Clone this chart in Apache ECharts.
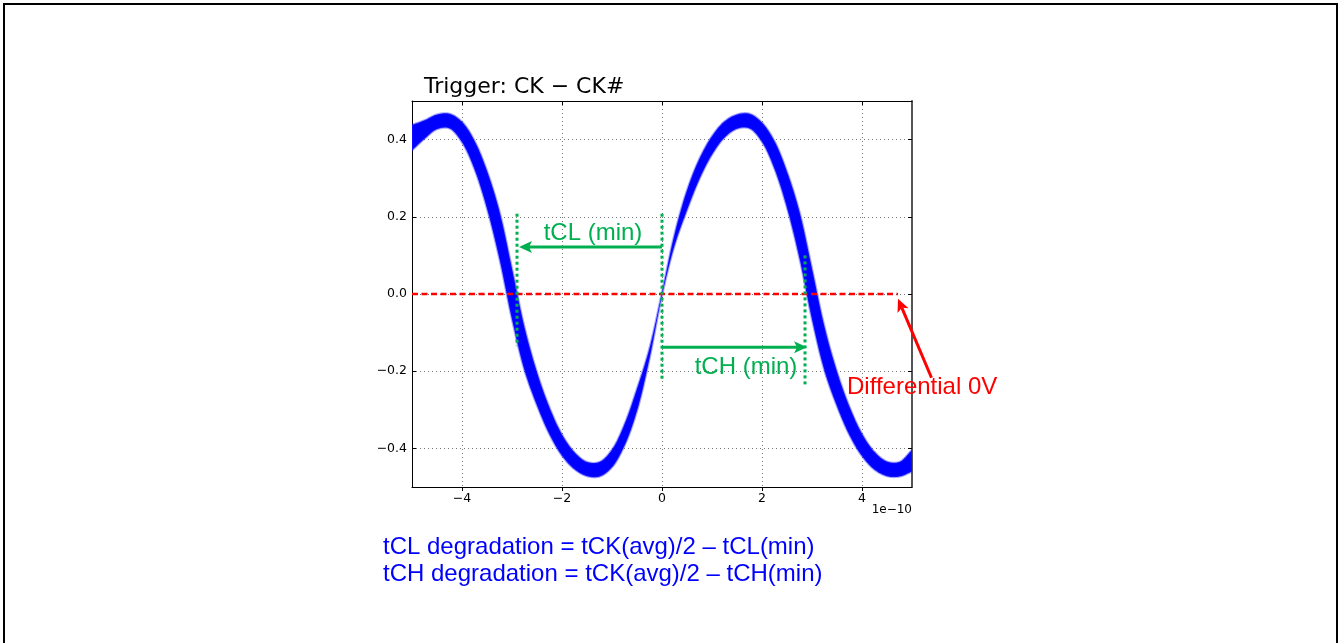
<!DOCTYPE html>
<html><head><meta charset="utf-8">
<script src="https://cdn.jsdelivr.net/npm/echarts@6/dist/echarts.min.js"></script>
<style>html,body{margin:0;padding:0;background:#fff}#c{width:1341px;height:643px}</style>
</head><body><div id="c"></div>
<script>
// ---- data (x in units of 1e-10 s, y in V) ----
const xTicks = [-4, -2, 0, 2, 4];
const yTicks = [-0.4, -0.2, 0.0, 0.2, 0.4];

// sample positions along x, with the top and bottom edge of the overlaid-trace band
const bandX = [
  -5.0, -4.75, -4.5, -4.25, -4.0, -3.75, -3.5, -3.25, -3.0, -2.75, -2.5, -2.25, -2.0, -1.75,
  -1.5, -1.25, -1.0, -0.75, -0.5, -0.25, 0.0, 0.25, 0.5, 0.75, 1.0, 1.25, 1.5, 1.75,
  2.0, 2.25, 2.5, 2.75, 3.0, 3.25, 3.5, 3.75, 4.0, 4.25, 4.5, 4.75, 5.0
];
const bandUpper = [
  0.438, 0.450, 0.465, 0.467, 0.446, 0.397, 0.319, 0.214, 0.066, -0.086, -0.203, -0.294, -0.364, -0.410,
  -0.435, -0.435, -0.403, -0.337, -0.245, -0.140, 0.004, 0.155, 0.269, 0.351, 0.409, 0.447, 0.465, 0.467,
  0.444, 0.396, 0.317, 0.213, 0.066, -0.085, -0.201, -0.292, -0.362, -0.409, -0.434, -0.435, -0.404
];
const bandLower = [
  0.372, 0.402, 0.427, 0.429, 0.393, 0.323, 0.221, 0.090, -0.066, -0.198, -0.289, -0.364, -0.419, -0.454,
  -0.472, -0.473, -0.449, -0.393, -0.303, -0.168, -0.004, 0.125, 0.217, 0.298, 0.361, 0.405, 0.428, 0.429,
  0.394, 0.324, 0.223, 0.092, -0.066, -0.199, -0.291, -0.366, -0.420, -0.455, -0.472, -0.473, -0.460
];

// annotations
const zeroLine = [[-5.0, 0.0], [4.72, 0.0]];
const greenDotted = [[-2.9, 0.208, -0.135], [0.0, 0.208, -0.226], [2.86, 0.10, -0.24]]; // x, yTop, yBottom
const greenArrows = [[0.0, 0.122, -2.86, 0.122], [0.0, -0.138, 2.9, -0.138]];           // from -> to
const redArrows = [[5.39, -0.217, 4.72, -0.012]];

const GREEN = '#00b050', RED = '#ff0000', BLUE = '#0000ff';

const chart = echarts.init(document.getElementById('c'), null, {renderer: 'canvas'});
const minus = s => String(s).replace('-', '\u2212');

// centripetal Catmull-Rom through already-projected pixel points (render-time smoothing only)
function spline(P, n) {
  const out = [];
  const d = (a, b) => Math.pow(Math.hypot(b[0] - a[0], b[1] - a[1]), 0.5) || 1e-6;
  const mix = (a, b, wa, wb) => [a[0] * wa + b[0] * wb, a[1] * wa + b[1] * wb];
  for (let i = 0; i < P.length - 1; i++) {
    const p1 = P[i], p2 = P[i + 1];
    const p0 = i > 0 ? P[i - 1] : [2 * p1[0] - p2[0], 2 * p1[1] - p2[1]];
    const p3 = i < P.length - 2 ? P[i + 2] : [2 * p2[0] - p1[0], 2 * p2[1] - p1[1]];
    const t0 = 0, t1 = t0 + d(p0, p1), t2 = t1 + d(p1, p2), t3 = t2 + d(p2, p3);
    for (let k = 0; k < n; k++) {
      const t = t1 + (t2 - t1) * k / n;
      const A1 = mix(p0, p1, (t1 - t) / (t1 - t0), (t - t0) / (t1 - t0));
      const A2 = mix(p1, p2, (t2 - t) / (t2 - t1), (t - t1) / (t2 - t1));
      const A3 = mix(p2, p3, (t3 - t) / (t3 - t2), (t - t2) / (t3 - t2));
      const B1 = mix(A1, A2, (t2 - t) / (t2 - t0), (t - t0) / (t2 - t0));
      const B2 = mix(A2, A3, (t3 - t) / (t3 - t1), (t - t1) / (t3 - t1));
      out.push(mix(B1, B2, (t2 - t) / (t2 - t1), (t - t1) / (t2 - t1)));
    }
  }
  out.push(P[P.length - 1]);
  return out;
}

function arrowItem(color) {
  return function (params, api) {
    const p1 = api.coord([api.value(0), api.value(1)]);
    const p2 = api.coord([api.value(2), api.value(3)]);
    const ang = Math.atan2(p2[1] - p1[1], p2[0] - p1[0]);
    const ux = Math.cos(ang), uy = Math.sin(ang);
    const L = 13, W = 6, N = 3;
    const bx = p2[0] - ux * L, by = p2[1] - uy * L;
    const nx = p2[0] - ux * (L - N), ny = p2[1] - uy * (L - N);
    return {
      type: 'group',
      children: [
        {type: 'line', shape: {x1: p1[0], y1: p1[1], x2: nx, y2: ny},
         style: {stroke: color, lineWidth: 3}},
        {type: 'polygon', shape: {points: [p2, [bx - uy * W, by + ux * W], [nx, ny], [bx + uy * W, by - ux * W]]},
         style: {fill: color}}
      ]
    };
  };
}

const axisCommon = {
  type: 'value',
  axisLine: {show: true, onZero: false, lineStyle: {color: '#000', width: 1}},
  axisTick: {show: true, inside: true, length: 4, lineStyle: {color: '#000'}},
  splitLine: {show: false},
  axisLabel: {show: false}
};

chart.setOption({
  animation: false,
  backgroundColor: '#fff',
  grid: {left: 412, top: 101, width: 500, height: 386, containLabel: false},
  xAxis: [
    Object.assign({}, axisCommon, {
      position: 'bottom', min: -5, max: 5,
      axisTick: {show: true, inside: false, length: 4, customValues: xTicks, lineStyle: {color: '#000'}},
      axisLabel: {show: true, customValues: xTicks, formatter: v => minus(v), color: '#000',
                  fontFamily: 'DejaVu Sans', fontSize: 12.5, margin: 5},
      splitLine: {show: true, lineStyle: {color: '#777', width: 1, type: [1, 3]}}
    }),
    Object.assign({}, axisCommon, {
      position: 'top', min: -5, max: 5,
      axisTick: {show: true, inside: true, length: 4, customValues: xTicks, lineStyle: {color: '#000'}}
    })
  ],
  yAxis: [
    Object.assign({}, axisCommon, {
      position: 'left', min: -0.5, max: 0.5,
      axisTick: {show: true, inside: true, length: 4, customValues: yTicks, lineStyle: {color: '#000'}},
      axisLabel: {show: true, customValues: yTicks, formatter: v => minus(Number(v).toFixed(1)), color: '#000',
                  fontFamily: 'DejaVu Sans', fontSize: 12.5, margin: 5},
      splitLine: {show: true, lineStyle: {color: '#777', width: 1, type: [1, 3]}}
    }),
    Object.assign({}, axisCommon, {
      position: 'right', min: -0.5, max: 0.5,
      axisLine: {show: true, onZero: false, lineStyle: {color: '#555', width: 2}},
      axisTick: {show: true, inside: true, length: 4, customValues: yTicks, lineStyle: {color: '#000'}}
    })
  ],
  series: [
    {
      name: 'traces', type: 'custom', coordinateSystem: 'cartesian2d', clip: true, silent: true, z: 2,
      data: [[0, 0]],
      renderItem: function (params, api) {
        const up = spline(bandX.map((x, i) => api.coord([x, bandUpper[i]])), 10);
        const lo = spline(bandX.map((x, i) => api.coord([x, bandLower[i]])), 10);
        const pts = up.concat(lo.reverse());
        return {type: 'polygon', shape: {points: pts},
                style: {fill: BLUE, stroke: 'rgba(30,30,255,0.4)', lineWidth: 2.2}};
      }
    },
    {
      name: 'zero', type: 'line', data: zeroLine, showSymbol: false, silent: true, z: 5,
      lineStyle: {color: RED, width: 2.5, type: [6, 3.5]}
    },
    {
      name: 'dotted', type: 'custom', coordinateSystem: 'cartesian2d', clip: false, silent: true, z: 6,
      data: greenDotted,
      renderItem: function (params, api) {
        const a = api.coord([api.value(0), api.value(1)]);
        const b = api.coord([api.value(0), api.value(2)]);
        return {type: 'line', shape: {x1: a[0], y1: a[1], x2: b[0], y2: b[1]},
                style: {stroke: GREEN, lineWidth: 3, lineDash: [3, 3]}};
      }
    },
    {
      name: 'garrows', type: 'custom', coordinateSystem: 'cartesian2d', clip: false, silent: true, z: 7,
      encode: {x: [0, 2], y: [1, 3]},
      data: greenArrows, renderItem: arrowItem(GREEN)
    },
    {
      name: 'rarrows', type: 'custom', coordinateSystem: 'cartesian2d', clip: false, silent: true, z: 7,
      encode: {x: [0, 2], y: [1, 3]},
      data: redArrows, renderItem: arrowItem(RED)
    }
  ],
  graphic: [
    {type: 'rect', shape: {x: 4, y: 4, width: 1333, height: 680}, style: {fill: 'none', stroke: '#000', lineWidth: 2}, z: 100},
    {type: 'text', x: 424, y: 87, style: {text: 'Trigger: CK \u2212 CK#', font: '22px "DejaVu Sans"', fill: '#000', textVerticalAlign: 'middle'}},
    {type: 'text', x: 912, y: 510, style: {text: '1e\u221210', font: '12px "DejaVu Sans"', fill: '#000', textAlign: 'right', textVerticalAlign: 'middle'}},
    {type: 'text', x: 593, y: 233, style: {text: 'tCL (min)', font: '24px "Liberation Sans"', fill: GREEN, textAlign: 'center', textVerticalAlign: 'middle'}, z: 10},
    {type: 'text', x: 746, y: 367, style: {text: 'tCH (min)', font: '24px "Liberation Sans"', fill: GREEN, textAlign: 'center', textVerticalAlign: 'middle'}, z: 10},
    {type: 'text', x: 847, y: 387, style: {text: 'Differential 0V', font: '24px "Liberation Sans"', fill: RED, textVerticalAlign: 'middle'}, z: 10},
    {type: 'text', x: 383, y: 547, style: {text: 'tCL degradation = tCK(avg)/2 \u2013 tCL(min)', font: '24px "Liberation Sans"', fill: BLUE, textVerticalAlign: 'middle'}},
    {type: 'text', x: 383, y: 574, style: {text: 'tCH degradation = tCK(avg)/2 \u2013 tCH(min)', font: '24px "Liberation Sans"', fill: BLUE, textVerticalAlign: 'middle'}}
  ]
});
</script></body></html>
